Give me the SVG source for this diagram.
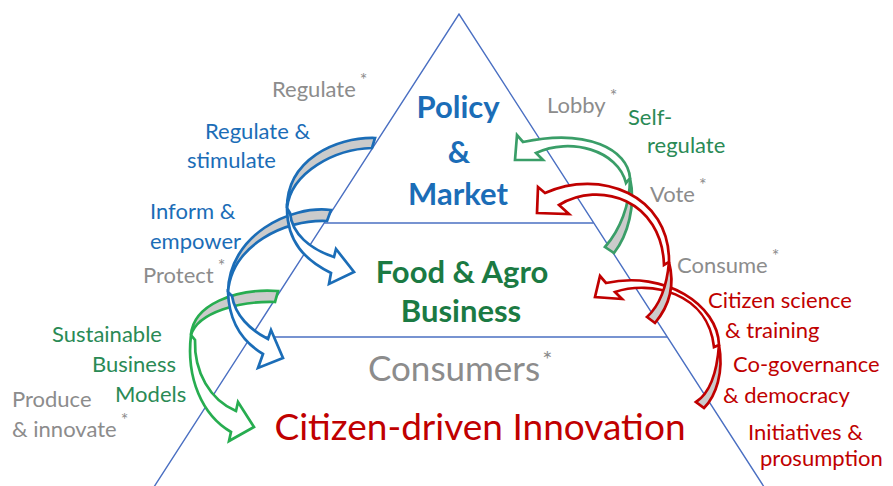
<svg xmlns="http://www.w3.org/2000/svg" width="893" height="486" viewBox="0 0 893 486">
  <style>
    text { font-family: Lato, "Liberation Sans", sans-serif; }
    .frame { stroke: #4a6fc2; stroke-width: 1.4; fill: none; }
    .back { fill: #cbcbcb; stroke-width: 2.7; stroke-linejoin: miter; }
    .front { fill: #ffffff; stroke-width: 2.7; stroke-linejoin: miter; }
    .blue { stroke: #1b6db7; }
    .greenL { stroke: #27ad50; }
    .greenR { stroke: #3a9e68; }
    .red { stroke: #c00000; }
    .lbl { font-size: 22px; }
    .gray { fill: #8c8c8c; }
    .tblue { fill: #1b6db7; }
    .tgreen { fill: #2a8a55; }
    .tred { fill: #c00000; }
    .big { font-weight: bold; font-size: 31px; text-anchor: middle; }
    .ast { font-size: 18px; }
  </style>

  <!-- pyramid outline and level dividers -->
  <g id="pyramid">
    <polyline class="frame" points="152,490 459,14 766,490"/>
    <line class="frame" x1="324.4" y1="223" x2="593.6" y2="223"/>
    <line class="frame" x1="251" y1="337" x2="667" y2="337"/>
  </g>

  <!-- curved arrows -->
  <g id="connectors">
    <!-- Sustainable Business Models -->
    <g id="arrow-models">
      <path class="back greenL" d="M 278,291 C 235,288 193,305 191,335 C 198,312 240,301 275,302 Z"/>
      <path class="front greenL" d="M 191,335 C 186,378 202,415 231,432 L 229,441 L 254,427 L 238,402 L 236,411 C 210,400 194,372 195,340 Z"/>
    </g>
    <!-- Inform & empower -->
    <g id="arrow-inform">
      <path class="back blue" d="M 331,210 C 290,205 229,235 228,292 C 232,245 285,219 327,221 Z"/>
      <path class="front blue" d="M 228,292 C 229,322 243,342 263,354 L 258,368 L 283,358 L 271,330 L 268,339 C 250,330 235,315 232,296 Z"/>
    </g>
    <!-- Regulate & stimulate -->
    <g id="arrow-regulate">
      <path class="back blue" d="M 375,138 C 335,137 287,160 287,208 C 291,172 335,149 372,148 Z"/>
      <path class="front blue" d="M 287,208 C 287,242 305,260 331,273 L 329,284 L 354,272 L 336,249 L 334,257 C 310,249 292,234 290,213 Z"/>
    </g>
    <!-- Self-regulate -->
    <g id="arrow-selfregulate">
      <path class="back greenR" d="M 614,253 C 628,235 636,205 630,178 C 630,205 620,230 605,247 Z"/>
      <path class="front greenR" d="M 630,178 C 628,150 588,128 523,142 L 517,135 L 515,160 L 543,160 L 536,153 C 570,137 618,150 626,183 Z"/>
    </g>
    <!-- Consume -->
    <g id="arrow-consume">
      <path class="back red" d="M 704,408 C 716,396 724,372 719,345 C 717,372 710,393 696,402 Z"/>
      <path class="front red" d="M 719,345 C 718,305 665,270 606,283 L 600,276 L 595,297 L 622,299 L 615,292 C 650,280 708,292 714,347 Z"/>
    </g>
    <!-- Vote -->
    <g id="arrow-vote">
      <path class="back red" d="M 655,323 C 670,305 675,285 669,262 C 667,285 660,305 647,317 Z"/>
      <path class="front red" d="M 669,262 C 670,195 600,168 545,193 L 538,187 L 537,213 L 569,214 L 559,205 C 600,180 662,200 664,265 Z"/>
    </g>
  </g>

  <!-- pyramid levels -->
  <g id="level-policy">
    <text class="big tblue" x="458" y="118">Policy</text>
    <text class="big tblue" x="459" y="163">&amp;</text>
    <text class="big tblue" x="458" y="205">Market</text>
  </g>
  <g id="level-business">
    <text class="big" fill="#1b7a43" font-size="32" x="462" y="283">Food &amp; Agro</text>
    <text class="big" fill="#1b7a43" font-size="32" x="461" y="322">Business</text>
  </g>
  <g id="level-consumers">
    <text class="gray" font-size="35" x="368" y="381">Consumers<tspan font-size="24" dx="2" dy="-13">*</tspan></text>
  </g>
  <g id="level-citizens">
    <text class="tred" font-size="37" text-anchor="middle" x="480" y="440">Citizen-driven Innovation</text>
  </g>

  <!-- side labels, left -->
  <g id="labels-left">
    <text class="lbl gray" x="272" y="97">Regulate<tspan class="ast" dx="4" dy="-11">*</tspan></text>
    <text class="lbl tblue" x="205" y="139">Regulate &amp;</text>
    <text class="lbl tblue" x="187" y="168">stimulate</text>
    <text class="lbl tblue" x="150" y="219">Inform &amp;</text>
    <text class="lbl tblue" x="150" y="249">empower</text>
    <text class="lbl gray" x="143" y="283">Protect<tspan class="ast" dx="4" dy="-11">*</tspan></text>
    <text class="lbl tgreen" x="52" y="342">Sustainable</text>
    <text class="lbl tgreen" x="92" y="372">Business</text>
    <text class="lbl tgreen" x="115" y="402">Models</text>
    <text class="lbl gray" x="12" y="407">Produce</text>
    <text class="lbl gray" x="12" y="437">&amp; innovate<tspan class="ast" dx="4" dy="-11">*</tspan></text>
  </g>

  <!-- side labels, right -->
  <g id="labels-right">
    <text class="lbl gray" x="547" y="113">Lobby<tspan class="ast" dx="4" dy="-11">*</tspan></text>
    <text class="lbl tgreen" x="628" y="125">Self-</text>
    <text class="lbl tgreen" x="647" y="153">regulate</text>
    <text class="lbl gray" x="650" y="202">Vote<tspan class="ast" dx="4" dy="-11">*</tspan></text>
    <text class="lbl gray" x="677" y="273">Consume<tspan class="ast" dx="4" dy="-11">*</tspan></text>
    <text class="lbl tred" x="708" y="308">Citizen science</text>
    <text class="lbl tred" x="725" y="338">&amp; training</text>
    <text class="lbl tred" x="733" y="372">Co-governance</text>
    <text class="lbl tred" x="723" y="403">&amp; democracy</text>
    <text class="lbl tred" x="748" y="440">Initiatives &amp;</text>
    <text class="lbl tred" x="760" y="466">prosumption</text>
  </g>
</svg>
